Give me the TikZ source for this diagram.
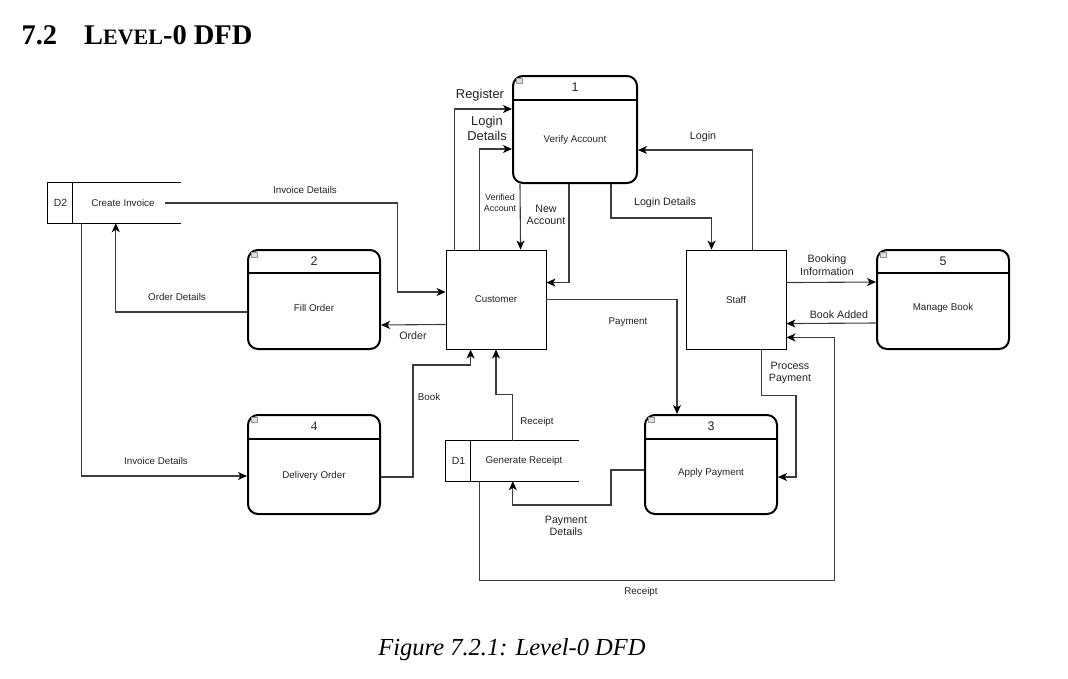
\documentclass[tikz,border=0pt]{standalone}
\usepackage{fontspec}
\setmainfont{Liberation Serif}
\setsansfont{Liberation Sans}
\usepackage{xcolor}
\definecolor{dfdline}{RGB}{60,60,60}
\definecolor{dfdtext}{RGB}{35,35,35}
\definecolor{dfdicon}{RGB}{150,150,150}
\usepackage{tikz}
\usetikzlibrary{arrows.meta, calc}

\tikzset{
  proc/.style={draw=black, line width=2pt, rounded corners=10pt, minimum width=132pt, minimum height=99pt, inner sep=0pt},
  ent/.style={draw=black, line width=0.9pt, minimum width=100pt, minimum height=99pt, inner sep=0pt},
  store/.style={minimum width=133pt, minimum height=40pt, inner sep=0pt},
  hdr/.style={draw=black, line width=2pt},
  flow/.style={draw=dfdline, line width=1.1pt, -{Stealth[length=9pt,width=8pt,inset=2.5pt,color=black]}},
  lbl/.style={font=\sffamily\fontsize{9.8}{11}\selectfont, text=dfdtext, inner sep=1pt},
  mlbl/.style={font=\sffamily\fontsize{10.7}{12.7}\selectfont, text=dfdtext, align=center, inner sep=1pt},
  blbl/.style={font=\sffamily\fontsize{12.9}{15}\selectfont, text=dfdtext, align=center, inner sep=1pt},
  tlbl/.style={font=\sffamily\fontsize{8.9}{10.6}\selectfont, text=dfdtext, align=center, inner sep=1pt},
  pnum/.style={font=\sffamily\fontsize{12.5}{14}\selectfont, text=dfdtext},
  icon/.style={draw=dfdicon, fill=dfdicon!30, line width=0.5pt}
}

\begin{document}
\begin{tikzpicture}[x=1pt, y=-1pt]
  \useasboundingbox (0,0) rectangle (1068,678);

  % heading and caption
  \node[anchor=base west, font=\bfseries\fontsize{28.5}{30}\selectfont] (title) at (18,44)
    {7.2\hspace{27pt}L{\fontsize{22}{24}\selectfont EVEL}-0 DFD};
  \node[font=\itshape\fontsize{24.5}{27}\selectfont] (caption) at (512,650) {Figure 7.2.1: Level-0 DFD};

  % processes
  \node[proc, minimum width=124pt, minimum height=107pt] (p1) at (575,129.5) {};
  \draw[hdr] ($(p1.north west)+(0,25)$) -- ($(p1.north east)+(0,25)$);
  \node[pnum] (p1num) at ($(p1.north)+(0,12.5)$) {1};
  \node[lbl] (p1txt) at ($(p1.center)+(0,10.5)$) {Verify Account};
  \draw[icon] ($(p1.north west)+(4,3)$) rectangle ++(6,5);

  \node[proc] (p2) at (314,299.5) {};
  \draw[hdr] ($(p2.north west)+(0,24)$) -- ($(p2.north east)+(0,24)$);
  \node[pnum] (p2num) at ($(p2.north)+(0,12.5)$) {2};
  \node[lbl] (p2txt) at ($(p2.center)+(0,8.5)$) {Fill Order};
  \draw[icon] ($(p2.north west)+(4,3)$) rectangle ++(6,5);

  \node[proc] (p3) at (711,464.5) {};
  \draw[hdr] ($(p3.north west)+(0,25)$) -- ($(p3.north east)+(0,25)$);
  \node[pnum] (p3num) at ($(p3.north)+(0,12.5)$) {3};
  \node[lbl] (p3txt) at ($(p3.center)+(0,8.5)$) {Apply Payment};
  \draw[icon] ($(p3.north west)+(4,3)$) rectangle ++(6,5);

  \node[proc] (p4) at (314,464.5) {};
  \draw[hdr] ($(p4.north west)+(0,25)$) -- ($(p4.north east)+(0,25)$);
  \node[pnum, font=\rmfamily\fontsize{13}{14}\selectfont] (p4num) at ($(p4.north)+(0,12.5)$) {4};
  \node[lbl] (p4txt) at ($(p4.center)+(0,11.5)$) {Delivery Order};
  \draw[icon] ($(p4.north west)+(4,3)$) rectangle ++(6,5);

  \node[proc] (p5) at (943,299.5) {};
  \draw[hdr] ($(p5.north west)+(0,24)$) -- ($(p5.north east)+(0,24)$);
  \node[pnum] (p5num) at ($(p5.north)+(0,12.5)$) {5};
  \node[lbl] (p5txt) at ($(p5.center)+(0,8.5)$) {Manage Book};
  \draw[icon] ($(p5.north west)+(4,3)$) rectangle ++(6,5);

  % external entities
  \node[ent, lbl] (cust) at (496,299.5) {Customer};
  \node[ent, lbl] (staff) at (736,299.5) {Staff};

  % data stores
  \node[store] (d2) at (114.5,203) {};
  \draw[line width=0.9pt] (d2.north east) -- (d2.north west) -- (d2.south west) -- (d2.south east);
  \draw[line width=0.9pt] ($(d2.north west)+(25,0)$) -- ($(d2.south west)+(25,0)$);
  \node[lbl, font=\sffamily\fontsize{10.4}{12}\selectfont] (d2id) at (60.5,203) {D2};
  \node[lbl] (d2txt) at (123,203) {Create Invoice};

  \node[store] (d1) at (512.5,461) {};
  \draw[line width=0.9pt] (d1.north east) -- (d1.north west) -- (d1.south west) -- (d1.south east);
  \draw[line width=0.9pt] ($(d1.north west)+(25,0)$) -- ($(d1.south west)+(25,0)$);
  \node[lbl, font=\sffamily\fontsize{10.4}{12}\selectfont] (d1id) at (458.5,461) {D1};
  \node[lbl] (d1txt) at (524,461) {Generate Receipt};

  % flows round Verify Account
  \draw[flow] ($(cust.north west)+(9,0)$) |- ($(p1.north west)+(0,34)$);
  \draw[flow] ($(cust.north west)+(34,0)$) |- ($(p1.north west)+(0,74)$);
  \draw[flow] ($(p1.south west)+(8,0)$) -- ($(cust.north west)+(75,0)$);
  \draw[flow] ($(p1.south west)+(57,0)$) |- ($(cust.north east)+(0,33)$);
  \draw[flow] ($(staff.north west)+(67,0)$) |- ($(p1.north east)+(0,75)$);
  \draw[flow] ($(p1.south west)+(99,0)$) -- ++(0,34) -| ($(staff.north west)+(26,0)$);
  \node[blbl] (lregister) at (480,95) {Register};
  \node[blbl] (llogin) at (487,128) {Login\\Details};
  \node[tlbl] (lverified) at (500,203) {Verified\\Account};
  \node[mlbl] (lnew) at (546,215) {New\\Account};
  \node[mlbl] (lloginr) at (703,137) {Login};
  \node[mlbl] (llogind) at (665,203) {Login Details};

  % flows round Staff
  \draw[flow] ($(staff.north east)+(0,33)$) -- ($(p5.north west)+(0,33)$);
  \draw[flow] ($(p5.north west)+(0,74)$) -- ($(staff.north east)+(0,74)$);
  \draw[flow] ($(d1.south west)+(34,0)$) |- ++(355,99) |- ($(staff.south east)+(0,-12)$);
  \draw[flow] ($(staff.south west)+(76,0)$) -- ++(0,46) -| ($(p3.east)+(18,12.5)$) -- ($(p3.east)+(0,12.5)$);
  \node[mlbl] (lbooking) at (827,265) {Booking\\Information};
  \node[mlbl] (lbookadd) at (839,315) {Book Added};
  \node[lbl] (lreceipt) at (641,592) {Receipt};
  \node[mlbl] (lprocess) at (790,373) {Process\\Payment};

  % payment and receipt
  \draw[flow] (cust.east) -| ($(p3.north west)+(33,0)$);
  \draw[flow] ($(p3.west)+(0,5.5)$) -- ++(-33,0) -- ++(0,35) -| ($(d1.south west)+(67,0)$);
  \draw[flow] ($(d1.north west)+(67,0)$) -- ++(0,-46) -| (cust.south);
  \node[lbl] (lpayment) at (628,322) {Payment};
  \node[mlbl] (lpaydet) at (566,526) {Payment\\Details};
  \node[lbl] (lreceipt2) at (537,422) {Receipt};

  % orders, books and invoices
  \draw[flow] ($(p4.east)+(0,12.5)$) -- ++(32,0) -- ++(0,-112) -| ($(cust.south west)+(25,0)$);
  \draw[flow] ($(cust.south west)+(0,-25)$) -- ($(p2.south east)+(0,-25)$);
  \draw[flow] ($(d2.east)+(-16,0)$) -- ++(232,0) |- ($(cust.west)+(0,-7.5)$);
  \draw[flow] ($(p2.west)+(0,12.5)$) -| ($(d2.south west)+(68,0)$);
  \draw[flow] ($(d2.south west)+(34,0)$) |- ($(p4.west)+(0,11.5)$);
  \node[lbl] (lbook) at (429,397) {Book};
  \node[mlbl] (lorder) at (413,336) {Order};
  \node[lbl] (linvoice) at (305,190) {Invoice Details};
  \node[lbl] (lorderdet) at (177,297) {Order Details};
  \node[lbl] (linvoice2) at (156,461) {Invoice Details};
\end{tikzpicture}
\end{document}
